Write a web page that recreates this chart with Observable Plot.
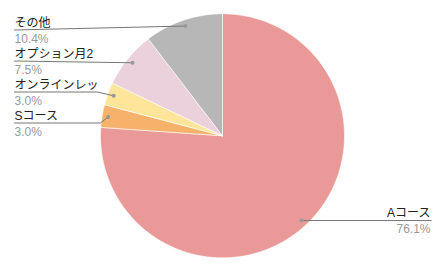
<!DOCTYPE html>
<html><head><meta charset="utf-8">
<script src="https://cdn.jsdelivr.net/npm/d3@7"></script>
<script src="https://cdn.jsdelivr.net/npm/@observablehq/plot@0.6"></script>
<style>body{margin:0;background:#fff}</style>
</head><body><div id="chart"></div>
<script>
const categories = ["Aコース","Sコース","オンラインレッ","オプション月2","その他"];
const values = [76.1, 3.0, 3.0, 7.5, 10.4];
const colors = ["#EA9999","#F6B26B","#FFE599","#EAD1DC","#B7B7B7"];

// layout
const W = 444, H = 271, CX = 222, CY = 135.3, R = 122;
const FS = 12;
const px = v => (v - CX) / R;
const py = v => (CY - v) / R;

const arcs = d3.pie().sort(null).value(d => d)(values);
const slicePts = [];
arcs.forEach((a, i) => {
  const cat = categories[i];
  slicePts.push({cat, x: 0, y: 0});
  const n = Math.max(4, Math.ceil((a.endAngle - a.startAngle) / 0.01));
  for (let k = 0; k <= n; k++) {
    const t = a.startAngle + (a.endAngle - a.startAngle) * k / n;
    slicePts.push({cat, x: Math.sin(t), y: Math.cos(t)});
  }
  slicePts.push({cat, x: 0, y: 0});
});

const DOT_R = 0.95;
const dots = arcs.map((a, i) => {
  const m = (a.startAngle + a.endAngle) / 2;
  return {cat: categories[i], x: DOT_R * Math.sin(m), y: DOT_R * Math.cos(m), pct: values[i]};
});

// label layout: left column rows (top to bottom), right label for the big slice
const leftOrder = [4, 3, 2, 1];
const bendPx = {2: 97, 1: 100};
const labels = [];
const leaders = [];
leftOrder.forEach((idx, r) => {
  const lineY = 29.5 + 31 * r;
  labels.push({x: px(14), y: py(lineY - 3.5 - 0.32 * FS), text: categories[idx], anchor: "start", fill: "#222"});
  labels.push({x: px(14), y: py(lineY + 12.5 - 0.32 * FS), text: values[idx].toFixed(1) + "%", anchor: "start", fill: "#999"});
  const d = dots[idx];
  leaders.push({id: idx, x: px(14), y: py(lineY)});
  if (bendPx[idx] !== undefined) leaders.push({id: idx, x: px(bendPx[idx]), y: py(lineY)});
  leaders.push({id: idx, x: d.x, y: d.y});
});
{
  const idx = 0, d = dots[0];
  const lineY = CY - d.y * R;
  labels.push({x: px(430), y: py(lineY - 3.8 - 0.32 * FS), text: categories[idx], anchor: "end", fill: "#222"});
  labels.push({x: px(430), y: py(lineY + 12.8 - 0.32 * FS), text: values[idx].toFixed(1) + "%", anchor: "end", fill: "#999"});
  leaders.push({id: idx, x: d.x, y: d.y});
  leaders.push({id: idx, x: px(430.7), y: d.y});
}

const chart = Plot.plot({
  width: W, height: H,
  margin: 0,
  style: {fontFamily: "'Liberation Sans', Arial, 'Noto Sans CJK JP', sans-serif", background: "#fff"},
  x: {domain: [-1, 1], range: [CX - R, CX + R], axis: null},
  y: {domain: [-1, 1], range: [CY + R, CY - R], axis: null},
  color: {domain: categories, range: colors},
  marks: [
    Plot.line(slicePts, {x: "x", y: "y", z: "cat", fill: "cat", stroke: "white", strokeWidth: 0.6, curve: "linear"}),
    Plot.line(leaders, {x: "x", y: "y", z: "id", stroke: "#777", strokeWidth: 1}),
    Plot.dot(dots, {x: "x", y: "y", r: 2, fill: "#999", stroke: null}),
    Plot.text(labels.filter(d => d.anchor === "start"), {x: "x", y: "y", text: "text", textAnchor: "start", fill: "fill", fontSize: FS}),
    Plot.text(labels.filter(d => d.anchor === "end"), {x: "x", y: "y", text: "text", textAnchor: "end", fill: "fill", fontSize: FS})
  ]
});
document.getElementById("chart").appendChild(chart);
</script>
</body></html>
